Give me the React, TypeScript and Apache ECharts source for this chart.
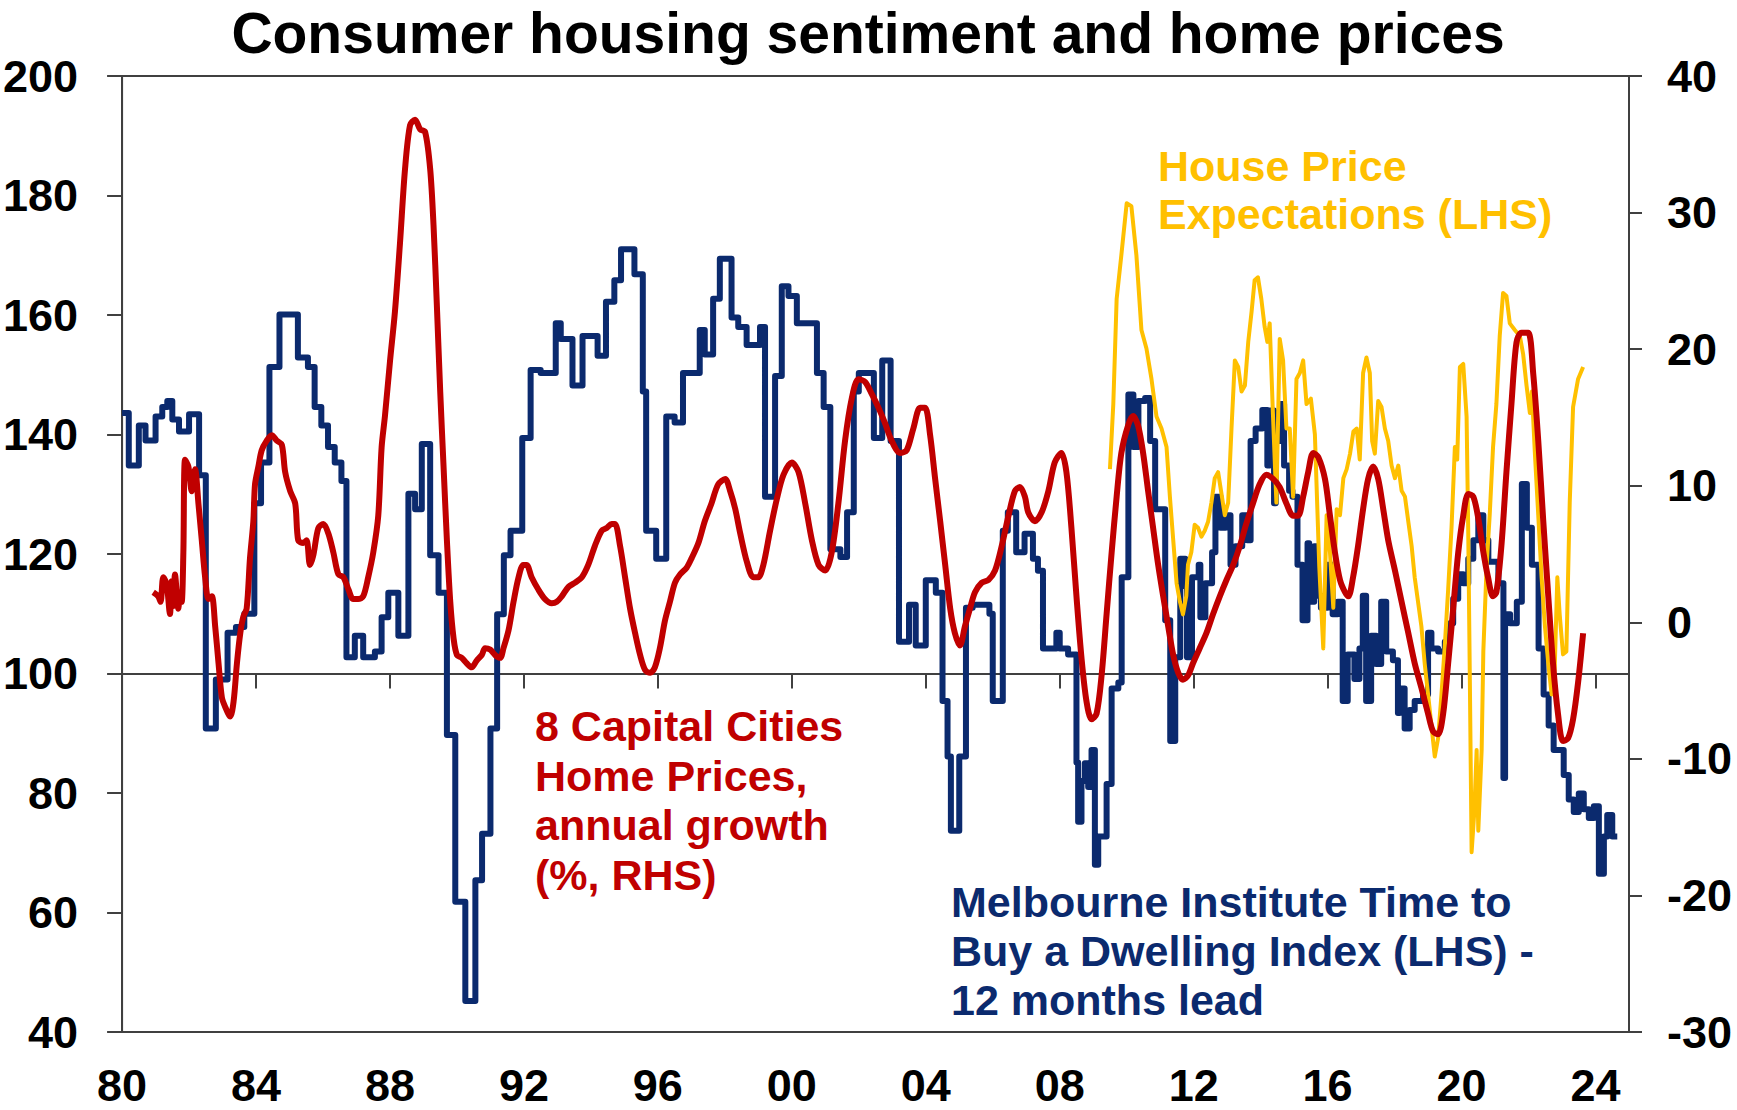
import React, { useEffect, useRef } from 'react';
import * as echarts from 'echarts';

const xTickYears = [1980, 1984, 1988, 1992, 1996, 2000, 2004, 2008, 2012, 2016, 2020, 2024];

// Melbourne Institute Time to Buy a Dwelling Index (LHS), 12 months lead
const blueYears = [1980.0,1980.2,1980.5,1980.7,1981.0,1981.2,1981.35,1981.5,1981.7,1982.0,1982.3,1982.5,1982.8,1983.15,1983.4,1983.65,1983.95,1984.15,1984.4,1984.7,1985.25,1985.55,1985.75,1985.95,1986.15,1986.35,1986.55,1986.7,1986.95,1987.2,1987.55,1987.75,1987.95,1988.25,1988.55,1988.75,1988.95,1989.2,1989.45,1989.7,1989.95,1990.25,1990.55,1990.75,1991.0,1991.2,1991.4,1991.6,1991.95,1992.2,1992.5,1992.95,1993.1,1993.45,1993.75,1994.2,1994.45,1994.7,1994.9,1995.3,1995.55,1995.65,1995.95,1996.25,1996.5,1996.75,1997.25,1997.4,1997.65,1997.85,1998.2,1998.4,1998.65,1999.05,1999.2,1999.5,1999.7,1999.9,2000.15,2000.75,2000.95,2001.15,2001.45,2001.65,2001.85,2002.0,2002.45,2002.7,2002.95,2003.2,2003.5,2003.7,2004.0,2004.3,2004.5,2004.65,2004.75,2005.0,2005.2,2005.4,2005.9,2006.0,2006.3,2006.45,2006.7,2006.95,2007.2,2007.35,2007.5,2007.9,2008.0,2008.25,2008.5,2008.55,2008.65,2008.75,2008.85,2008.95,2009.05,2009.15,2009.4,2009.55,2009.75,2009.85,2010.05,2010.2,2010.35,2010.55,2010.7,2010.85,2011.15,2011.3,2011.45,2011.6,2011.75,2011.8,2011.95,2012.15,2012.2,2012.35,2012.55,2012.65,2012.8,2012.95,2013.1,2013.25,2013.45,2013.6,2013.7,2013.85,2014.05,2014.2,2014.25,2014.4,2014.45,2014.6,2014.7,2014.85,2014.95,2015.1,2015.25,2015.4,2015.45,2015.6,2015.68,2015.8,2016.0,2016.15,2016.3,2016.45,2016.6,2016.8,2016.95,2017.05,2017.15,2017.3,2017.45,2017.6,2017.75,2017.95,2018.1,2018.15,2018.3,2018.45,2018.6,2018.85,2019.0,2019.1,2019.3,2019.5,2019.65,2019.75,2019.9,2020.05,2020.2,2020.35,2020.5,2020.65,2020.8,2021.1,2021.25,2021.3,2021.45,2021.65,2021.8,2021.95,2022.1,2022.3,2022.45,2022.6,2022.75,2023.05,2023.2,2023.35,2023.5,2023.65,2023.8,2023.95,2024.1,2024.25,2024.35,2024.5,2024.65];
const blueValues = [143.6,134.8,141.5,139.0,143.0,144.6,145.6,142.5,140.5,143.4,133.2,90.8,99.0,106.8,107.8,110.0,128.5,135.3,151.3,160.1,152.9,151.3,144.6,141.5,137.9,135.3,132.2,102.7,106.3,102.7,103.7,109.4,113.5,106.3,130.1,127.5,138.4,119.8,113.5,89.7,61.8,45.2,65.4,73.2,90.8,109.9,119.8,123.9,139.4,150.8,150.3,158.6,156.0,148.2,156.5,153.2,162.2,165.8,171.0,166.8,147.2,123.9,119.2,143.0,142.0,150.3,157.5,153.4,162.7,169.4,159.6,158.0,155.0,158.0,129.6,149.8,164.8,163.2,158.6,150.3,144.6,120.8,119.5,127.0,147.2,150.3,139.4,152.4,138.9,105.3,111.5,104.7,115.6,113.5,95.4,86.1,73.7,86.1,111.0,111.5,110.0,95.4,123.9,127.0,120.3,123.4,119.2,117.2,104.2,106.8,104.2,103.2,85.1,75.2,82.0,85.0,81.0,87.2,68.0,72.7,81.5,97.5,98.5,116.1,146.7,137.9,145.6,146.1,138.9,127.5,108.9,88.7,102.7,119.2,114.6,102.7,116.1,118.2,109.4,115.1,120.3,129.6,124.4,126.5,118.2,121.3,126.5,122.3,138.9,141.0,144.1,134.8,144.0,128.5,138.9,145.1,134.8,130.6,129.6,118.2,108.9,121.8,112.0,121.3,113.0,111.0,118.2,109.9,112.0,95.4,103.2,99.1,104.2,113.0,95.4,106.3,101.6,112.0,103.7,102.2,93.4,97.5,90.8,93.9,95.4,96.5,106.8,104.2,103.7,105.3,108.4,112.5,116.6,115.1,119.2,122.3,126.5,122.3,118.7,115.1,82.5,109.9,108.4,112.0,131.7,124.4,118.2,104.2,96.5,91.3,87.2,83.0,78.9,76.8,79.9,77.3,75.8,77.8,66.5,72.7,76.3,72.7,72.7];

// 8 Capital Cities Home Prices, annual growth (%, RHS)
const redYears = [1980.93,1981.08,1981.15,1981.23,1981.33,1981.43,1981.48,1981.53,1981.58,1981.68,1981.73,1981.78,1981.83,1981.88,1981.98,1982.08,1982.18,1982.28,1982.38,1982.48,1982.58,1982.68,1982.78,1982.88,1982.98,1983.08,1983.23,1983.33,1983.43,1983.53,1983.62,1983.72,1983.82,1983.92,1983.97,1984.07,1984.17,1984.32,1984.47,1984.62,1984.77,1984.87,1985.02,1985.17,1985.26,1985.41,1985.51,1985.61,1985.71,1985.86,1986.01,1986.16,1986.31,1986.46,1986.61,1986.76,1986.9,1987.05,1987.2,1987.35,1987.5,1987.65,1987.75,1987.85,1988.0,1988.15,1988.3,1988.45,1988.6,1988.75,1988.9,1989.05,1989.2,1989.3,1989.4,1989.5,1989.6,1989.7,1989.8,1989.9,1990.0,1990.14,1990.29,1990.44,1990.59,1990.74,1990.84,1990.99,1991.14,1991.29,1991.39,1991.54,1991.69,1991.84,1991.98,1992.08,1992.23,1992.43,1992.63,1992.83,1992.98,1993.13,1993.33,1993.53,1993.73,1993.92,1994.12,1994.32,1994.47,1994.62,1994.72,1994.87,1995.02,1995.17,1995.32,1995.47,1995.62,1995.77,1995.91,1996.06,1996.21,1996.36,1996.51,1996.66,1996.86,1997.01,1997.21,1997.4,1997.6,1997.8,1998.01,1998.16,1998.31,1998.46,1998.66,1998.85,1999.0,1999.15,1999.35,1999.55,1999.75,2000.0,2000.2,2000.4,2000.6,2000.8,2001.0,2001.19,2001.39,2001.59,2001.79,2001.99,2002.19,2002.39,2002.59,2002.78,2002.98,2003.23,2003.43,2003.63,2003.83,2003.98,2004.13,2004.28,2004.43,2004.58,2004.73,2004.87,2005.02,2005.17,2005.32,2005.47,2005.67,2005.87,2006.07,2006.27,2006.47,2006.66,2006.81,2006.96,2007.06,2007.26,2007.46,2007.66,2007.85,2008.05,2008.2,2008.35,2008.5,2008.65,2008.8,2008.95,2009.1,2009.25,2009.4,2009.55,2009.7,2009.84,2010.04,2010.19,2010.34,2010.49,2010.64,2010.79,2010.94,2011.09,2011.24,2011.39,2011.54,2011.68,2011.83,2011.98,2012.18,2012.38,2012.58,2012.78,2012.98,2013.18,2013.38,2013.57,2013.77,2013.97,2014.17,2014.37,2014.57,2014.77,2014.97,2015.12,2015.27,2015.42,2015.57,2015.72,2015.92,2016.07,2016.22,2016.37,2016.52,2016.62,2016.76,2016.91,2017.06,2017.21,2017.36,2017.51,2017.66,2017.81,2018.01,2018.21,2018.41,2018.6,2018.8,2019.0,2019.15,2019.3,2019.45,2019.6,2019.75,2019.9,2020.05,2020.2,2020.35,2020.5,2020.64,2020.79,2020.94,2021.04,2021.19,2021.34,2021.49,2021.64,2021.79,2021.99,2022.14,2022.29,2022.44,2022.59,2022.73,2022.88,2023.03,2023.18,2023.33,2023.48,2023.63];
const redValues = [2.2,1.9,1.5,3.3,2.8,0.6,3.0,1.2,3.5,1.0,2.2,1.5,5.1,11.9,11.4,9.6,11.2,8.7,6.0,3.3,1.7,1.9,-0.3,-3.0,-5.5,-6.2,-6.9,-5.8,-3.0,-0.8,0.4,1.0,4.7,7.4,10.1,11.4,12.6,13.3,13.7,13.3,13.0,11.0,9.6,8.7,6.0,5.8,6.0,4.2,4.9,6.9,7.2,6.5,5.1,3.5,3.3,2.4,1.7,1.7,1.9,3.3,5.1,7.8,12.8,15.1,19.1,22.8,27.8,33.2,36.4,36.8,36.1,35.9,33.2,29.1,23.2,16.9,11.4,6.0,1.5,-1.2,-2.4,-2.6,-3.0,-3.3,-2.8,-2.4,-1.9,-2.0,-2.4,-2.6,-1.9,-0.6,1.5,3.3,4.2,4.2,3.3,2.4,1.7,1.4,1.5,1.9,2.6,2.9,3.3,4.2,5.6,6.7,6.9,7.2,7.2,5.6,3.3,1.0,-0.8,-2.4,-3.5,-3.7,-3.3,-1.9,0.1,1.5,2.9,3.5,4.0,4.7,5.8,7.4,8.7,10.1,10.5,9.6,8.3,6.5,4.4,3.3,3.3,4.2,6.7,9.0,10.8,11.7,11.0,8.7,6.0,4.2,3.8,5.1,8.7,13.3,16.4,17.8,17.6,16.7,15.7,14.6,13.3,12.4,12.6,14.2,15.7,15.7,13.7,10.5,7.4,4.2,1.0,-0.8,-1.7,-0.3,1.0,2.2,2.9,3.1,3.8,5.6,7.8,9.6,9.9,9.2,8.05,7.4,8.05,9.6,11.7,12.4,11.0,6.9,1.9,-2.6,-5.8,-7.1,-6.7,-3.9,0.6,5.1,9.2,12.4,14.4,15.1,14.4,12.4,9.6,6.9,4.2,1.9,-0.3,-2.4,-3.7,-4.2,-3.9,-3.0,-1.9,-0.8,0.6,1.9,3.1,4.2,5.6,7.2,8.7,10.1,10.8,10.5,9.9,8.7,7.8,7.8,9.2,11.0,12.4,12.1,10.5,7.8,5.1,3.1,2.2,1.9,3.3,5.6,8.3,10.5,11.4,10.5,8.3,6.0,3.8,1.5,-0.8,-3.0,-4.8,-6.7,-8.0,-8.2,-6.7,-3.0,1.0,5.1,7.8,9.4,9.2,7.6,5.3,3.3,1.9,2.2,5.6,11.0,16.0,20.5,21.2,21.2,18.2,13.3,7.4,1.9,-3.0,-6.7,-8.7,-8.5,-7.1,-4.4,-0.8];

// House Price Expectations (LHS)
const yellowYears = [2009.5,2009.6,2009.7,2009.84,2010.0,2010.14,2010.29,2010.44,2010.59,2010.74,2010.89,2011.04,2011.19,2011.29,2011.39,2011.49,2011.59,2011.68,2011.78,2011.83,2011.93,2012.03,2012.13,2012.23,2012.33,2012.43,2012.53,2012.63,2012.73,2012.83,2012.93,2013.03,2013.13,2013.23,2013.33,2013.43,2013.53,2013.63,2013.73,2013.82,2013.92,2014.02,2014.12,2014.2,2014.27,2014.37,2014.47,2014.57,2014.67,2014.77,2014.87,2014.97,2015.07,2015.17,2015.27,2015.37,2015.5,2015.62,2015.75,2015.87,2015.97,2016.07,2016.17,2016.27,2016.37,2016.47,2016.57,2016.67,2016.77,2016.87,2016.96,2017.06,2017.16,2017.26,2017.33,2017.41,2017.51,2017.61,2017.71,2017.81,2017.91,2018.01,2018.11,2018.21,2018.31,2018.41,2018.51,2018.6,2018.7,2018.8,2018.9,2019.0,2019.1,2019.2,2019.3,2019.4,2019.5,2019.6,2019.7,2019.8,2019.87,2019.95,2020.05,2020.15,2020.2,2020.25,2020.3,2020.38,2020.45,2020.5,2020.6,2020.65,2020.75,2020.84,2020.94,2021.04,2021.14,2021.24,2021.34,2021.44,2021.59,2021.74,2021.84,2021.94,2022.04,2022.1,2022.19,2022.29,2022.39,2022.49,2022.59,2022.69,2022.78,2022.86,2022.93,2023.03,2023.13,2023.23,2023.33,2023.48,2023.63];
const yellowValues = [134.2,145.1,162.7,170.0,178.7,178.2,170.0,157.5,154.4,149.3,143.0,141.0,137.9,129.6,122.3,115.1,112.0,109.9,113.0,118.2,120.3,124.9,124.4,122.9,123.9,125.4,128.6,132.7,133.7,130.1,126.5,128.6,141.0,152.4,151.3,147.2,148.2,155.5,160.6,165.8,166.3,162.7,158.0,155.5,158.6,143.0,128.6,156.0,152.4,141.0,141.0,129.6,149.3,150.3,152.4,145.1,146.0,140.0,118.0,104.2,126.5,120.3,111.0,127.5,126.5,132.7,134.2,136.8,140.5,141.0,135.8,150.3,152.9,150.3,138.9,136.8,145.6,144.6,141.0,138.9,134.8,132.7,134.8,130.6,129.6,125.4,121.3,116.1,112.0,107.9,101.6,96.5,91.3,86.1,89.2,96.5,104.7,114.1,124.4,137.9,135.8,151.3,151.8,143.0,123.4,97.5,70.1,76.8,87.2,73.7,87.2,103.7,118.2,126.5,137.9,145.1,156.5,163.7,163.2,158.6,157.5,156.5,153.4,148.2,143.6,147.2,136.8,126.5,116.1,107.9,101.6,96.5,100.6,116.1,109.9,103.2,103.7,128.6,144.6,149.3,151.3];

const FONT = "'Liberation Sans', Arial, Helvetica, sans-serif";
const AXIS_COLOR = '#404040';
const BLUE = '#0b2a6e';
const RED = '#c00000';
const YELLOW = '#ffc000';

const zip = (xs: number[], ys: number[]) => xs.map((x, i) => [x, ys[i]]);

export default function App() {
  const ref = useRef<HTMLDivElement>(null);

  useEffect(() => {
    document.body.style.margin = '0';
    const chart = echarts.init(ref.current as HTMLDivElement, undefined, { renderer: 'svg' });
    const lineStyle = { color: AXIS_COLOR, width: 2 };
    const labelStyle = { fontSize: 45, fontWeight: 'bold', color: '#000', fontFamily: FONT };
    const annot = (text: string, x: number, y: number, color: string) => ({
      type: 'text',
      x,
      y,
      z: 100,
      style: { text, fill: color, font: `bold 43px ${FONT}`, align: 'left', verticalAlign: 'middle' },
    });

    chart.setOption({
      animation: false,
      backgroundColor: '#ffffff',
      grid: { left: 122, right: 108, top: 76, bottom: 78, show: true, borderColor: AXIS_COLOR, borderWidth: 2, backgroundColor: 'transparent' },
      xAxis: [
        {
          type: 'value', min: 1980, max: 2025, interval: 4, position: 'bottom', offset: -358.5,
          axisLine: { show: true, onZero: false, lineStyle },
          axisTick: { show: true, inside: false, length: 15, lineStyle, customValues: xTickYears },
          axisLabel: { show: false },
          splitLine: { show: false },
        },
        {
          type: 'value', min: 1980, max: 2025, interval: 4, position: 'bottom',
          axisLine: { show: true, onZero: false, lineStyle },
          axisTick: { show: false },
          axisLabel: {
            show: true, margin: 33, lineHeight: 40, ...labelStyle, customValues: xTickYears,
            formatter: (v: number) => (Math.round(v) % 4 === 0 ? String(Math.round(v) % 100).padStart(2, '0') : ''),
          },
          splitLine: { show: false },
        },
      ],
      yAxis: [
        {
          type: 'value', position: 'left', min: 40, max: 200, interval: 20,
          axisLine: { show: true, onZero: false, lineStyle },
          axisTick: { show: true, inside: false, length: 15, lineStyle },
          axisLabel: { margin: 44, ...labelStyle },
          splitLine: { show: false },
        },
        {
          type: 'value', position: 'right', min: -30, max: 40, interval: 10,
          axisLine: { show: true, onZero: false, lineStyle },
          axisTick: { show: true, inside: false, length: 13, lineStyle },
          axisLabel: { margin: 38, ...labelStyle },
          splitLine: { show: false },
        },
      ],
      series: [
        {
          name: 'Time to Buy a Dwelling', type: 'line', xAxisIndex: 0, yAxisIndex: 0,
          data: zip(blueYears, blueValues), step: 'end', showSymbol: false, symbol: 'none', z: 2,
          lineStyle: { color: BLUE, width: 6, join: 'round' },
        },
        {
          name: 'House Price Expectations', type: 'line', xAxisIndex: 0, yAxisIndex: 0,
          data: zip(yellowYears, yellowValues), showSymbol: false, symbol: 'none', z: 3,
          lineStyle: { color: YELLOW, width: 4, join: 'round' },
        },
        {
          name: '8 Capital Cities Home Prices', type: 'line', xAxisIndex: 0, yAxisIndex: 1,
          data: zip(redYears, redValues), smooth: 0.3, showSymbol: false, symbol: 'none', z: 4,
          lineStyle: { color: RED, width: 6, join: 'round' },
        },
      ],
      graphic: [
        {
          type: 'text', x: 868, y: 33, z: 100,
          style: { text: 'Consumer housing sentiment and home prices', fill: '#000', font: `bold 57px ${FONT}`, align: 'center', verticalAlign: 'middle' },
        },
        annot('House Price', 1158, 166, YELLOW),
        annot('Expectations (LHS)', 1158, 214, YELLOW),
        annot('8 Capital Cities', 535, 726, RED),
        annot('Home Prices,', 535, 776, RED),
        annot('annual growth', 535, 825, RED),
        annot('(%, RHS)', 535, 875, RED),
        annot('Melbourne Institute Time to', 951, 902, BLUE),
        annot('Buy a Dwelling Index (LHS) -', 951, 951, BLUE),
        annot('12 months lead', 951, 1000, BLUE),
      ],
    });

    return () => chart.dispose();
  }, []);

  return <div ref={ref} style={{ width: 1737, height: 1110 }} />;
}
